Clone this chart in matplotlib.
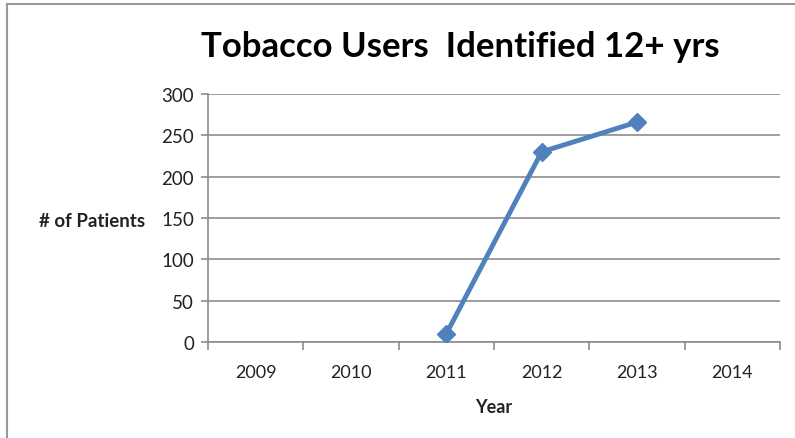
import numpy as np
import matplotlib.pyplot as plt
from matplotlib.lines import Line2D
from matplotlib.ticker import FixedLocator, NullFormatter

plt.rcParams["font.family"] = ["Lato", "DejaVu Sans"]

# Tobacco users identified, patients aged 12+
years = ["2009", "2010", "2011", "2012", "2013", "2014"]
patients = [np.nan, np.nan, 10, 230, 266, np.nan]

LINE = "#4F81BD"
GRID = "#8c8c8c"
TEXT = "#222222"

fig = plt.figure(figsize=(7.95, 4.39), dpi=100, facecolor="white")
ax = fig.add_axes([208 / 795, 1 - 343 / 439, 572 / 795, 248 / 439])

x = np.arange(len(years))
ax.plot(x, patients, color=LINE, linewidth=3.5, marker="D", markersize=9,
        markeredgecolor=LINE, markerfacecolor=LINE, zorder=3)

ax.set_xlim(-0.5, len(years) - 0.5)
ax.set_ylim(0, 300)
ax.set_yticks(range(0, 301, 50))
ax.yaxis.grid(True, color=GRID, linewidth=1.2)
ax.set_axisbelow(True)

# category ticks sit on the boundaries, labels in the middle
ax.xaxis.set_major_locator(FixedLocator(np.arange(-0.5, len(years), 1.0)))
ax.xaxis.set_major_formatter(NullFormatter())
ax.xaxis.set_minor_locator(FixedLocator(x))
ax.set_xticklabels(years, minor=True)
ax.tick_params(axis="x", which="major", direction="out", length=6, color=GRID, width=1.2)
ax.tick_params(axis="x", which="minor", length=0, pad=16, labelsize=13, labelcolor=TEXT)
ax.tick_params(axis="y", direction="out", length=5, color=GRID, width=1.2,
               pad=5, labelsize=13.5, labelcolor=TEXT)

for side in ["top", "right"]:
    ax.spines[side].set_visible(False)
for side in ["left", "bottom"]:
    ax.spines[side].set_color(GRID)
    ax.spines[side].set_linewidth(1.2)

ax.set_ylabel("# of Patients", rotation=0, ha="right", va="center",
              fontsize=13.5, fontweight="bold", color=TEXT)
ax.yaxis.set_label_coords(-0.11, 0.488)
ax.set_xlabel("Year", fontsize=13, fontweight="bold", color=TEXT)
ax.xaxis.set_label_coords(0.5, -0.225)

fig.text(460 / 795, 1 - 47 / 439, "Tobacco Users  Identified 12+ yrs",
         ha="center", va="center", fontsize=25, fontweight="bold", color="black")

# chart frame (top and left edges only visible)
fig.add_artist(Line2D([7 / 795, 1], [1 - 5 / 439] * 2, color="#999999", linewidth=1.5))
fig.add_artist(Line2D([7 / 795] * 2, [0, 1 - 5 / 439], color="#999999", linewidth=1.5))

fig.savefig("out.png", dpi=100, facecolor="white")
